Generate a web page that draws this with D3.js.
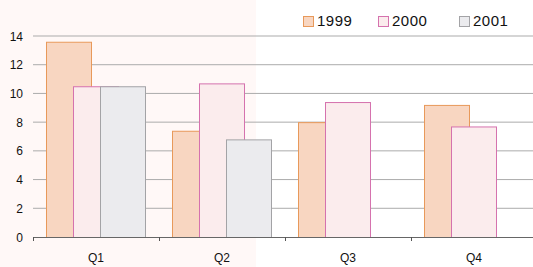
<!DOCTYPE html>
<html>
<head>
<meta charset="utf-8">
<script src="https://cdn.jsdelivr.net/npm/d3@7"></script>
<style>
  body { margin: 0; background: #fff; }
  text { font-family: "Liberation Sans", Arial, sans-serif; fill: #111; }
</style>
</head>
<body>
<div id="chart"></div>
<script>
const quarters = ["Q1", "Q2", "Q3", "Q4"];
const years = ["1999", "2000", "2001"];
const values1999 = [13.6, 7.4, 8.0, 9.2];
const values2000 = [10.5, 10.7, 9.4, 7.7];
const values2001 = [10.5, 6.8, null, null];
const yTicks = [0, 2, 4, 6, 8, 10, 12, 14];

const fills = ["#f8d6c1", "#fbeced", "#ebebee"];
const strokes = ["#e8995a", "#d572ae", "#a3a3a6"];

const W = 533, H = 267;
const svg = d3.select("#chart").append("svg")
    .attr("width", W).attr("height", H);

// light panel behind the left half
svg.append("rect").attr("x", 0).attr("y", 0)
    .attr("width", 256).attr("height", H).attr("fill", "#fff8f7");

const x = d3.scaleBand().domain(quarters).range([33, 537]);
const xs = d3.scalePoint().domain(years).range([13, 67]);
const barW = 45;
const y = d3.scaleLinear().domain([0, 14]).range([237, 36]);

// gridlines
svg.append("g").selectAll("line")
  .data(yTicks.filter(d => d > 0))
  .join("line")
    .attr("x1", 33).attr("x2", W)
    .attr("y1", d => y(d)).attr("y2", d => y(d))
    .attr("stroke", "#ababab").attr("stroke-width", 1);

// y labels
svg.append("g").selectAll("text")
  .data(yTicks)
  .join("text")
    .attr("x", 23).attr("y", d => y(d) + 4.5)
    .attr("text-anchor", "end")
    .attr("font-size", 12)
    .text(d => d);

const series = [values1999, values2000, values2001];
series.forEach((vals, i) => {
  svg.append("g").selectAll("rect")
    .data(quarters.map((q, j) => ({q, v: vals[j]})).filter(d => d.v != null))
    .join("rect")
      .attr("x", d => x(d.q) + xs(years[i]) + 0.5)
      .attr("y", d => y(d.v) + 0.5)
      .attr("width", barW)
      .attr("height", d => y(0) - y(d.v))
      .attr("fill", fills[i])
      .attr("stroke", strokes[i])
      .attr("stroke-width", 1);
});

// bottom axis
const xAxis = svg.append("g").attr("transform", "translate(0,237)");
xAxis.append("line").attr("x1", 33).attr("x2", W).attr("y1", 0.5).attr("y2", 0.5)
    .attr("stroke", "#666").attr("stroke-width", 1.2);
xAxis.selectAll(".tk").data(quarters).join("line")
    .attr("x1", d => x(d) + 0.5).attr("x2", d => x(d) + 0.5)
    .attr("y1", 0).attr("y2", 4)
    .attr("stroke", "#555");
xAxis.selectAll("text").data(quarters).join("text")
    .attr("x", d => x(d) + x.bandwidth() / 2)
    .attr("y", 25)
    .attr("text-anchor", "middle")
    .attr("font-size", 12)
    .text(d => d);

// legend
const legX = [303, 378, 459];
const leg = svg.append("g");
years.forEach((yr, i) => {
  leg.append("rect").attr("x", legX[i] + 0.5).attr("y", 16.5)
    .attr("width", 10).attr("height", 10)
    .attr("fill", fills[i]).attr("stroke", strokes[i]);
  leg.append("text").attr("x", legX[i] + 14).attr("y", 26)
    .attr("font-size", 15).attr("letter-spacing", 0.5)
    .text(yr);
});
</script>
</body>
</html>
